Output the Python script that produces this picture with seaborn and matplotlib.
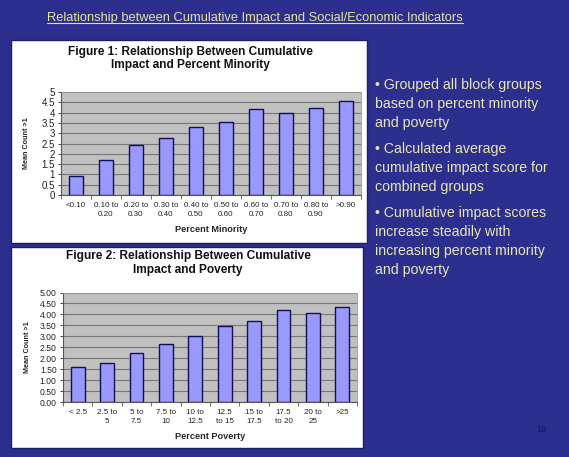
import matplotlib
matplotlib.use("Agg")
import matplotlib.pyplot as plt
import seaborn as sns
import pandas as pd
import numpy as np
from matplotlib.patches import Rectangle
from matplotlib.lines import Line2D

minority_labels = ["<0.10", "0.10 to\n0.20", "0.20 to\n0.30", "0.30 to\n0.40", "0.40 to\n0.50",
                   "0.50 to\n0.60", "0.60 to\n0.70", "0.70 to\n0.80", "0.80 to\n0.90", ">0.90"]
minority_values = [0.94, 1.69, 2.45, 2.79, 3.31, 3.52, 4.19, 4.00, 4.23, 4.55]

poverty_labels = ["< 2.5", "2.5 to\n5", "5 to\n7.5", "7.5 to\n10", "10 to\n12.5",
                  "12.5\nto 15", "15 to\n17.5", "17.5\nto 20", "20 to\n25", ">25"]
poverty_values = [1.61, 1.76, 2.22, 2.66, 3.02, 3.45, 3.68, 4.18, 4.07, 4.36]

slide_title = "Relationship between Cumulative Impact and Social/Economic Indicators"
fig1_title = "Figure 1: Relationship Between Cumulative\nImpact and Percent Minority"
fig2_title = "Figure 2: Relationship Between Cumulative\nImpact and Poverty"
bullets = ["• Grouped all block groups\nbased on percent minority\nand poverty",
           "• Calculated average\ncumulative impact score for\ncombined groups",
           "• Cumulative impact scores\nincrease steadily with\nincreasing percent minority\nand poverty"]

sns.set_theme(style="white")
plt.rcParams['font.family'] = ['Liberation Sans', 'DejaVu Sans']

W, H = 569, 457
BG = "#2d2f8e"
fig = plt.figure(figsize=(W / 100, H / 100), dpi=100)
fig.patch.set_facecolor(BG)

def px(x, y):
    return x / W, 1 - y / H

# white panels
for (x0, y0, x1, y1) in [(11, 40, 367, 243), (11, 247, 363, 448)]:
    fig.patches.append(Rectangle((x0 / W, 1 - y1 / H), (x1 - x0) / W, (y1 - y0) / H,
                                 transform=fig.transFigure, facecolor="white",
                                 edgecolor="#1c1c6a", linewidth=1.0, zorder=-10))

def make_chart(rect, labels, values, yticks, fmt, xlabel, yfs, ylpad):
    ax = fig.add_axes(rect)
    ax.set_zorder(5)
    df = pd.DataFrame({"cat": labels, "val": values})
    sns.barplot(data=df, x="cat", y="val", ax=ax, color="#9999ff", width=0.47,
                edgecolor="#101050", linewidth=1.0, saturation=1)
    ax.set_facecolor("#c0c0c0")
    ax.set_ylim(0, 5)
    ax.set_xlim(-0.5, len(labels) - 0.5)
    ax.set_yticks(yticks)
    ax.set_yticklabels([fmt.format(v) for v in yticks], fontsize=yfs, color="#222222")
    ax.yaxis.grid(True, color="#777777", linewidth=0.8)
    ax.set_axisbelow(True)
    ax.tick_params(axis="x", labelsize=5.8, length=0, pad=5, colors="#222222")
    for lab in ax.get_xticklabels():
        lab.set_linespacing(1.45)
    ax.tick_params(axis="y", length=2.5, left=True, width=0.6, pad=2)
    ax.set_xticks(np.arange(-0.5, len(labels), 1.0), minor=True)
    ax.tick_params(axis="x", which="minor", length=3, bottom=True, width=0.6, color="#555555")
    for s in ["top", "right"]:
        ax.spines[s].set_color("#999999")
        ax.spines[s].set_linewidth(0.6)
    for s in ["left", "bottom"]:
        ax.spines[s].set_color("#555555")
        ax.spines[s].set_linewidth(0.8)
    ax.set_ylabel("Mean Count >1", fontsize=5.2, fontweight="bold", labelpad=ylpad)
    ax.set_xlabel(xlabel, fontsize=6.6, fontweight="bold", labelpad=5)
    return ax

ax1 = make_chart([61 / W, 1 - 195 / H, 300 / W, 103 / H], minority_labels, minority_values,
                 [0, 0.5, 1, 1.5, 2, 2.5, 3, 3.5, 4, 4.5, 5], "{:g}", "Percent Minority",
                 7.0, 8)
ax2 = make_chart([63 / W, 1 - 402 / H, 294 / W, 109.5 / H], poverty_labels, poverty_values,
                 [0, 0.5, 1, 1.5, 2, 2.5, 3, 3.5, 4, 4.5, 5], "{:.2f}", "Percent Poverty",
                 6.2, 6)

fig.text(*px(190, 58.5), fig1_title, ha="center", va="center", fontsize=8.6,
         fontweight="bold", color="#111111", linespacing=1.15)
fig.text(*px(188, 263), fig2_title, ha="center", va="center", fontsize=8.6,
         fontweight="bold", color="#111111", linespacing=1.15)

t = fig.text(*px(255, 18), slide_title, ha="center", va="center", fontsize=9.3,
             color="#e4e49a")
fig.canvas.draw()
bb = t.get_window_extent(renderer=fig.canvas.get_renderer())
inv = fig.transFigure.inverted()
(x0, y0), (x1, y1) = inv.transform([(bb.x0, bb.y0), (bb.x1, bb.y1)])
fig.lines.append(Line2D([x0, x1], [y0 + 0.002, y0 + 0.002], transform=fig.transFigure,
                        color="#e4e49a", linewidth=0.8))

ys = [78, 142, 206]
for y, b in zip(ys, bullets):
    fig.text(*px(375, y), b, ha="left", va="top", fontsize=10.2, color="#e8e8b4",
             linespacing=1.45)

fig.text(*px(541, 430), "19", ha="center", va="center", fontsize=6.5, color="#15154a")

fig.savefig("out.png", dpi=100, facecolor=BG)
